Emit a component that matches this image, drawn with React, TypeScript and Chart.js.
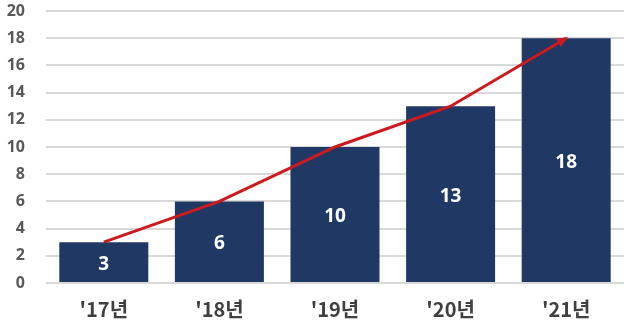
import React, { useEffect, useRef } from "react";
import { Chart, registerables } from "chart.js";

Chart.register(...registerables);

const categories = ["'17년", "'18년", "'19년", "'20년", "'21년"];
const barValues = [3, 6, 10, 13, 18];
const trendValues = [3, 6, 10, 13, 18];
const yTicks = [0, 2, 4, 6, 8, 10, 12, 14, 16, 18, 20];

const BAR_COLOR = "#1f3864";
const LINE_COLOR = "#cc1a1f";

const barLabelPlugin = {
  id: "barLabels",
  afterDatasetsDraw(chart: any) {
    const ctx = chart.ctx;
    const meta = chart.getDatasetMeta(0);
    ctx.save();
    ctx.fillStyle = "#ffffff";
    ctx.font = "bold 19px 'Noto Sans', 'DejaVu Sans', sans-serif";
    ctx.textAlign = "center";
    ctx.textBaseline = "middle";
    meta.data.forEach((el: any, i: number) => {
      const y = (el.y + el.base) / 2 + 2;
      ctx.fillText(String(barValues[i]), el.x, y);
    });
    ctx.restore();
  },
};

const arrowPlugin = {
  id: "arrowHead",
  afterDatasetsDraw(chart: any) {
    const meta = chart.getDatasetMeta(1);
    const pts = meta.data;
    if (pts.length < 2) return;
    const a = pts[pts.length - 2];
    const b = pts[pts.length - 1];
    const ang = Math.atan2(b.y - a.y, b.x - a.x);
    const ctx = chart.ctx;
    const len = 9;
    const wid = 5;
    ctx.save();
    ctx.fillStyle = LINE_COLOR;
    ctx.translate(b.x, b.y);
    ctx.rotate(ang);
    ctx.beginPath();
    ctx.moveTo(2, 0);
    ctx.lineTo(-len, -wid);
    ctx.lineTo(-len, wid);
    ctx.closePath();
    ctx.fill();
    ctx.restore();
  },
};

export default function App() {
  const ref = useRef<HTMLCanvasElement | null>(null);
  useEffect(() => {
    if (!ref.current) return;
    const chart = new Chart(ref.current, {
      type: "bar",
      data: {
        labels: categories,
        datasets: [
          {
            type: "bar",
            data: barValues,
            backgroundColor: BAR_COLOR,
            barPercentage: 0.77,
            categoryPercentage: 1,
            order: 2,
          } as any,
          {
            type: "line",
            data: trendValues,
            borderColor: LINE_COLOR,
            borderWidth: 3,
            pointRadius: 0,
            tension: 0,
            order: 1,
          } as any,
        ],
      },
      options: {
        animation: false,
        responsive: false,
        maintainAspectRatio: false,
        layout: { padding: { top: 11, right: 6, left: 0, bottom: 0 } },
        plugins: { legend: { display: false }, tooltip: { enabled: false } },
        scales: {
          x: {
            grid: { display: false, drawTicks: false },
            border: { display: false },
            ticks: {
              padding: 14,
              color: "#404040",
              font: { family: "'Noto Sans CJK KR', 'Noto Sans', sans-serif", size: 20, weight: "bold" },
            },
            afterFit: (s: any) => {
              s.height = 45;
              s.paddingLeft = 0;
              s.paddingRight = 0;
            },
          },
          y: {
            min: 0,
            max: 20,
            afterBuildTicks: (s: any) => {
              s.ticks = yTicks.map((v) => ({ value: v }));
            },
            grid: { color: "#d9d9d9", lineWidth: 2, drawTicks: false },
            border: { display: false },
            ticks: {
              padding: 21,
              color: "#595959",
              font: { family: "'Noto Sans', 'DejaVu Sans', sans-serif", size: 16, weight: "bold" },
            },
            afterFit: (s: any) => {
              s.width = 46;
              s.paddingTop = 0;
              s.paddingBottom = 0;
            },
          },
        },
      },
      plugins: [barLabelPlugin, arrowPlugin],
    } as any);
    return () => chart.destroy();
  }, []);
  return (
    <div style={{ position: "fixed", left: 0, top: 0, width: 630, height: 328, background: "#fff" }}>
      <canvas ref={ref} width={630} height={328} style={{ display: "block" }} />
    </div>
  );
}
